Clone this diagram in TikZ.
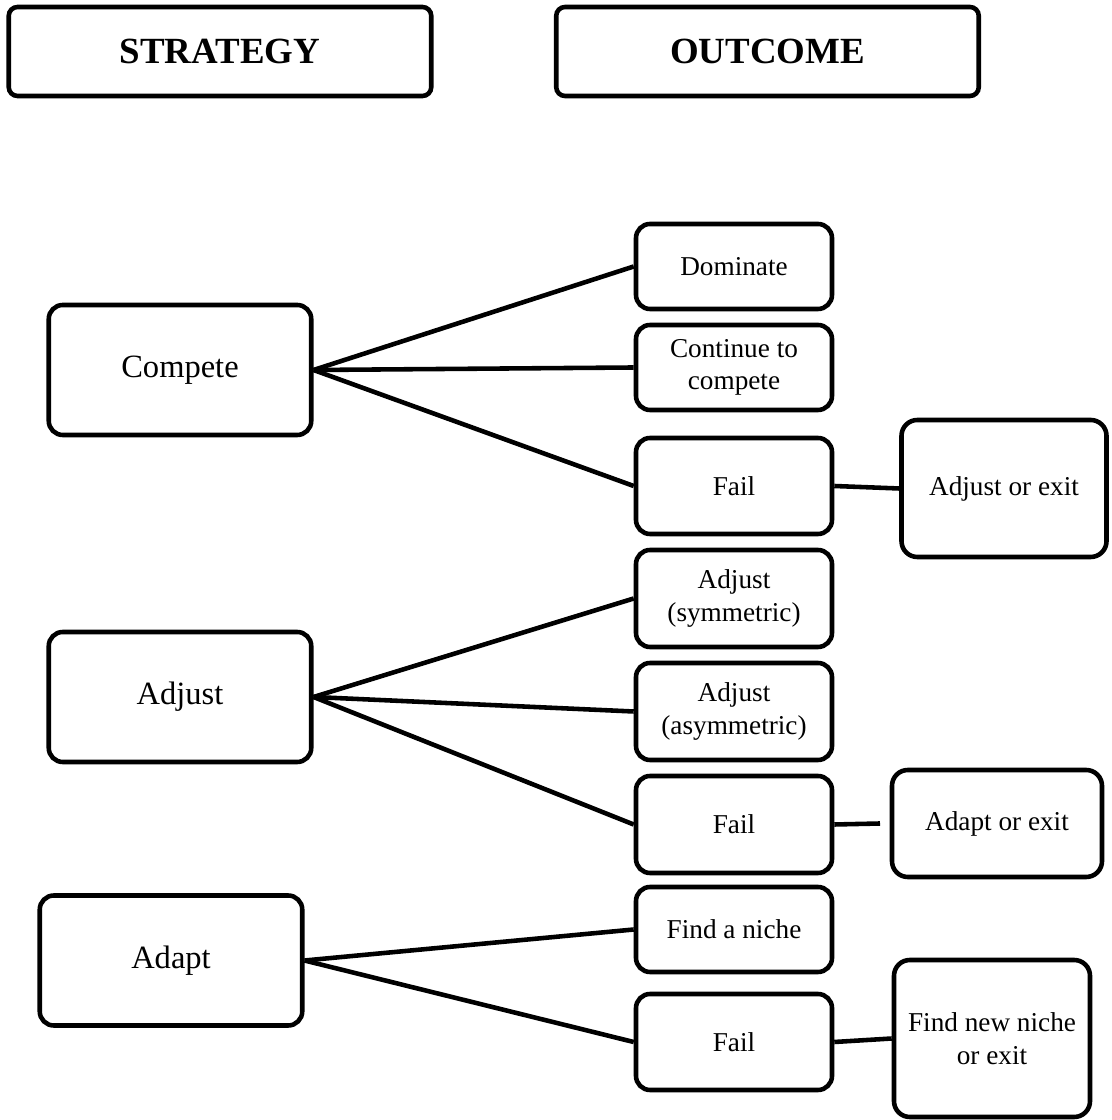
\documentclass[tikz,border=0pt]{standalone}
\usepackage{fontspec}
\setmainfont{Liberation Serif}
\usepackage{tikz}
\newcommand{\smalltxt}{\fontsize{15.5}{18.5}\selectfont}
\newcommand{\bigtxt}{\fontsize{18.5}{22}\selectfont}
\newcommand{\headtxt}{\fontsize{21}{25}\selectfont\bfseries}

\begin{document}
\begin{tikzpicture}[
  head/.style={draw, line width=2.6pt, rounded corners=5pt, align=center,
               minimum width=8.45cm, minimum height=1.78cm, font=\headtxt},
  strat/.style={draw, line width=2.6pt, rounded corners=8pt, align=center,
                minimum width=5.25cm, minimum height=2.6cm, font=\bigtxt},
  outc/.style={draw, line width=2.6pt, rounded corners=8pt, align=center,
               minimum width=3.92cm, minimum height=1.7cm, font=\smalltxt},
  fate/.style={draw, line width=2.6pt, rounded corners=9pt, align=center,
               minimum width=4.1cm, font=\smalltxt},
  link/.style={line width=2.6pt}
]
\useasboundingbox (0,0) rectangle (22.22,22.4);

\node[head] (strategy) at (4.40,21.37) {STRATEGY};
\node[head] (outcome) at (15.35,21.37) {OUTCOME};

% compete branch
\node[strat] (compete) at (3.60,15.00) {Compete};
\node[outc] (dominate) at (14.68,17.07) {Dominate};
\node[outc] (contin) at (14.68,15.05) {Continue to\\compete};
\node[outc, minimum height=1.92cm] (fail1) at (14.68,12.68) {Fail};
\node[fate, minimum height=2.74cm] (adjexit) at (20.08,12.63) {Adjust or exit};

% adjust branch
\node[strat] (adjust) at (3.60,8.46) {Adjust};
\node[outc, minimum height=1.94cm] (sym) at (14.68,10.43) {Adjust\\(symmetric)};
\node[outc, minimum height=1.94cm] (asym) at (14.68,8.17) {Adjust\\(asymmetric)};
\node[outc, minimum height=1.94cm] (fail2) at (14.68,5.91) {Fail};
\node[fate, minimum width=4.2cm, minimum height=2.14cm] (adaptexit) at (19.94,5.93) {Adapt or exit};
\coordinate (gap2) at (17.60,5.93);

% adapt branch
\node[strat] (adapt) at (3.42,3.19) {Adapt};
\node[outc] (niche) at (14.68,3.81) {Find a niche};
\node[outc, minimum height=1.92cm] (fail3) at (14.68,1.56) {Fail};
\node[fate, minimum width=3.92cm, minimum height=3.14cm] (newniche) at (19.84,1.63) {Find new niche\\or exit};

\draw[link] (compete.east) -- (dominate.west);
\draw[link] (compete.east) -- (contin.west);
\draw[link] (compete.east) -- (fail1.west);
\draw[link] (fail1.east) -- (adjexit.west);

\draw[link] (adjust.east) -- (sym.west);
\draw[link] (adjust.east) -- (asym.west);
\draw[link] (adjust.east) -- (fail2.west);
\draw[link] (fail2.east) -- (gap2);

\draw[link] (adapt.east) -- (niche.west);
\draw[link] (adapt.east) -- (fail3.west);
\draw[link] (fail3.east) -- (newniche.west);

\end{tikzpicture}
\end{document}
